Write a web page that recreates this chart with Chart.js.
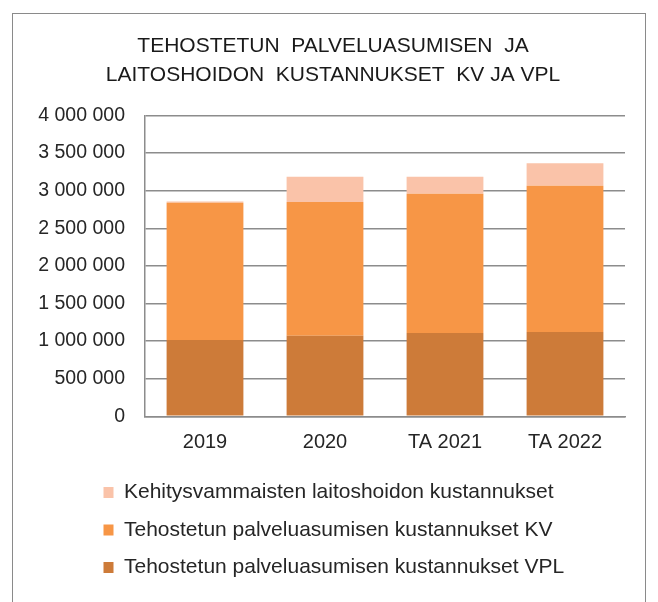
<!DOCTYPE html>
<html>
<head>
<meta charset="utf-8">
<script src="https://cdn.jsdelivr.net/npm/chart.js@4"></script>
<style>
  html, body { margin: 0; padding: 0; background: #fff; }
  #wrap { position: relative; width: 658px; height: 602px; overflow: hidden; }
  #frame { position: absolute; left: 12px; top: 13px; width: 634px; height: 620px; border: 1.5px solid #8a8a8a; box-sizing: border-box; pointer-events: none; }
  canvas { position: absolute; left: 0; top: 0; }
</style>
</head>
<body>
<div id="wrap">
  <canvas id="c" width="658" height="602"></canvas>
  <div id="frame"></div>
</div>
<script>
const categories = ['2019', '2020', 'TA 2021', 'TA 2022'];
const seriesNames = [
  'Tehostetun palveluasumisen kustannukset VPL',
  'Tehostetun palveluasumisen kustannukset KV',
  'Kehitysvammaisten laitoshoidon kustannukset'
];
const vplValues = [1015000, 1072000, 1108000, 1121000];
const kvValues = [1825000, 1778000, 1852000, 1945000];
const laitosValues = [15000, 336000, 226000, 298000];
const yTicks = [0, 500000, 1000000, 1500000, 2000000, 2500000, 3000000, 3500000, 4000000];
const titleLines = ['TEHOSTETUN  PALVELUASUMISEN  JA', 'LAITOSHOIDON  KUSTANNUKSET  KV JA VPL'];
const colors = ['#CD7B39', '#F79646', '#FAC3A9'];

function fmt(v) {
  return String(v).replace(/\B(?=(\d{3})+(?!\d))/g, ' ');
}

const boxShift = {
  id: 'boxShift',
  afterLayout(chart) {
    if (chart.legend) { chart.legend.left += 54; }
    if (chart.titleBlock) { chart.titleBlock.left += 4; chart.titleBlock.right += 4; }
  }
};

const FONT = "'Liberation Sans', Arial, sans-serif";
const textColor = '#262626';
const gridColor = '#8c8c8c';

new Chart(document.getElementById('c'), {
  type: 'bar',
  data: {
    labels: categories,
    datasets: [
      { label: seriesNames[0], data: vplValues, backgroundColor: colors[0] },
      { label: seriesNames[1], data: kvValues, backgroundColor: colors[1] },
      { label: seriesNames[2], data: laitosValues, backgroundColor: colors[2] }
    ]
  },
  options: {
    responsive: false,
    animation: false,
    layout: { padding: { left: 33, right: 33, top: 0, bottom: 14 } },
    datasets: { bar: { categoryPercentage: 0.8, barPercentage: 0.8 } },
    plugins: {
      title: {
        display: true,
        text: titleLines,
        color: '#1a1a1a',
        font: { family: FONT, size: 21, weight: 'normal', lineHeight: 1.38 },
        padding: { top: 32, bottom: 25.5 }
      },
      legend: {
        position: 'bottom',
        align: 'start',
        reverse: true,
        labels: {
          color: textColor,
          font: { family: FONT, size: 21 },
          boxWidth: 10,
          boxHeight: 11,
          padding: 16.5
        }
      },
      tooltip: { enabled: false }
    },
    scales: {
      x: {
        stacked: true,
        grid: { display: false, drawTicks: false },
        border: { display: true, color: gridColor, width: 1.5 },
        ticks: { color: textColor, font: { family: FONT, size: 20 }, padding: 14 },
        afterFit(scale) { scale.height = 49.2; }
      },
      y: {
        stacked: true,
        min: 0,
        max: 4000000,
        afterBuildTicks(scale) { scale.ticks = yTicks.map(v => ({ value: v })); },
        grid: { color: gridColor, lineWidth: 1.5, drawTicks: false },
        border: { display: true, color: gridColor, width: 1.5 },
        ticks: {
          color: textColor,
          font: { family: FONT, size: 19.5 },
          padding: 20,
          callback: (v) => fmt(v)
        },
        afterFit(scale) { scale.width = 112; }
      }
    }
  },
  plugins: [boxShift]
});
</script>
</body>
</html>
